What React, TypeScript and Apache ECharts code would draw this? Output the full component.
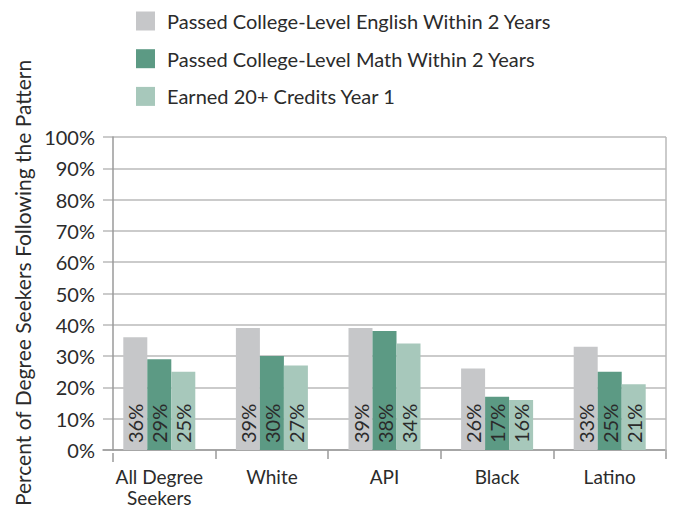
import React, { useEffect, useRef } from "react";
import * as echarts from "echarts";

const categories = ["All Degree\nSeekers", "White", "API", "Black", "Latino"];
const seriesNames = [
  "Passed College-Level English Within 2 Years",
  "Passed College-Level Math Within 2 Years",
  "Earned 20+ Credits Year 1",
];
const english = [36, 39, 39, 26, 33];
const math = [29, 30, 38, 17, 25];
const credits = [25, 27, 34, 16, 21];
const yTicks = [0, 10, 20, 30, 40, 50, 60, 70, 80, 90, 100];
const yTitle = "Percent of Degree Seekers Following the Pattern";

const FONT = "Lato";
const TEXT = "#2b2b2b";
const colors = ["#c6c7c9", "#5c9a84", "#a7c8bb"];
const AXIS = "#9a9a9a";
const GRID = "#bababa";

export default function App() {
  const ref = useRef<HTMLDivElement>(null);
  useEffect(() => {
    if (!ref.current) return;
    const chart = echarts.init(ref.current, undefined, { renderer: "svg" });
    const data = [english, math, credits];
    chart.setOption({
      animation: false,
      textStyle: { fontFamily: FONT },
      legend: {
        orient: "vertical",
        left: 131,
        top: 6,
        itemWidth: 19,
        itemHeight: 19,
        itemGap: 17.7,
        icon: "rect",
        textStyle: { fontFamily: FONT, fontSize: 20, color: TEXT, padding: [0, 0, 0, 7] },
        data: seriesNames,
      },
      grid: {
        left: 103,
        right: 7,
        top: 137,
        bottom: 55,
        show: false,
      },
      graphic: [
        {
          type: "text",
          x: 22,
          y: 283,
          rotation: Math.PI / 2,
          style: {
            text: yTitle,
            fontFamily: FONT,
            fontSize: 21,
            fill: TEXT,
            align: "center",
            verticalAlign: "middle",
          },
        },
        {
          type: "line",
          shape: { x1: 666, y1: 137, x2: 666, y2: 453 },
          style: { stroke: GRID, lineWidth: 1.5 },
          z: 1,
        },
        {
          type: "line",
          shape: { x1: 113, y1: 453, x2: 113, y2: 462 },
          style: { stroke: AXIS, lineWidth: 1.5 },
          z: 1,
        },
      ],
      xAxis: {
        type: "category",
        data: categories,
        axisLine: { lineStyle: { color: AXIS, width: 1.5 } },
        axisTick: {
          show: true,
          length: 9,
          interval: (i: number) => i !== 0,
          lineStyle: { color: AXIS, width: 1.5 },
        },
        axisLabel: {
          interval: 0,
          fontFamily: FONT,
          fontSize: 19,
          color: TEXT,
          margin: 16,
          lineHeight: 21,
        },
      },
      yAxis: {
        type: "value",
        min: yTicks[0],
        max: yTicks[yTicks.length - 1],
        interval: 10,
        offset: -10,
        axisLine: { show: true, lineStyle: { color: AXIS, width: 1.5 } },
        axisTick: { show: false },
        splitLine: { show: true, lineStyle: { color: GRID, width: 1.5 } },
        axisLabel: {
          fontFamily: FONT,
          fontSize: 20,
          color: TEXT,
          margin: 18,
          formatter: (v: number) => `${v}%`,
        },
      },
      series: seriesNames.map((name, i) => ({
        name,
        type: "bar",
        data: data[i],
        barWidth: 24,
        barGap: "0%",
        itemStyle: { color: colors[i] },
        label: {
          show: true,
          position: "insideBottom",
          rotate: 90,
          align: "left",
          verticalAlign: "middle",
          distance: 7,
          fontFamily: FONT,
          fontSize: 20,
          color: TEXT,
          formatter: (p: any) => `${p.value}%`,
        },
      })),
    });
    return () => chart.dispose();
  }, []);
  return (
    <div
      ref={ref}
      style={{ position: "fixed", left: 0, top: 0, width: 673, height: 508, background: "#fff" }}
    />
  );
}
